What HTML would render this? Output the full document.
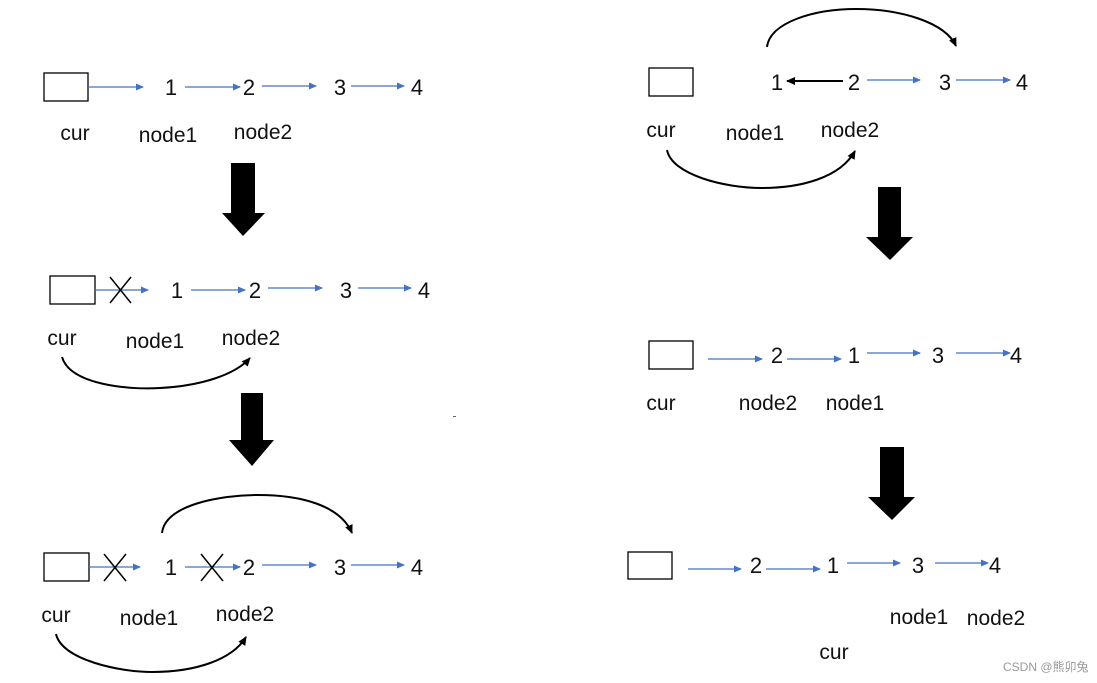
<!DOCTYPE html>
<html><head><meta charset="utf-8"><style>
html,body{margin:0;padding:0;background:#fff;}
svg{display:block;}
text{font-family:"Liberation Sans","Noto Sans CJK SC",sans-serif;fill:#111;}
.n{font-size:22px;text-anchor:middle;}
.l{font-size:21px;text-anchor:middle;}
.b{stroke:#4472C4;stroke-width:1.3;fill:none;}
.k{stroke:#000;stroke-width:2;fill:none;}
.x{stroke:#000;stroke-width:1.5;}
.r{fill:#fff;stroke:#000;stroke-width:1.3;}
</style></head><body>
<svg width="1097" height="683" viewBox="0 0 1097 683" xmlns="http://www.w3.org/2000/svg">
<defs>
<marker id="bh" markerWidth="8" markerHeight="8" refX="7" refY="4" orient="auto" markerUnits="userSpaceOnUse"><path d="M0,0.5 L8,4 L0,7.5 Z" fill="#4472C4"/></marker>
<marker id="kh" markerWidth="9" markerHeight="9" refX="8" refY="4.5" orient="auto" markerUnits="userSpaceOnUse"><path d="M0,0.5 L9,4.5 L0,8.5 Z" fill="#000"/></marker>
</defs>

<!-- Panel 1 -->
<rect class="r" x="44" y="73" width="44" height="28"/>
<line class="b" x1="88" y1="87" x2="143" y2="87" marker-end="url(#bh)"/>
<text class="n" x="171" y="95">1</text>
<line class="b" x1="185" y1="87" x2="240" y2="87" marker-end="url(#bh)"/>
<text class="n" x="249" y="95">2</text>
<line class="b" x1="262" y1="86" x2="316" y2="86" marker-end="url(#bh)"/>
<text class="n" x="340" y="95">3</text>
<line class="b" x1="351" y1="86" x2="404" y2="86" marker-end="url(#bh)"/>
<text class="n" x="417" y="95">4</text>
<text class="l" x="75" y="140">cur</text>
<text class="l" x="168" y="142">node1</text>
<text class="l" x="263" y="139">node2</text>

<path d="M231,163 H255 V213 H265 L243,236 L222,213 H231 Z" fill="#000"/>

<!-- Panel 2 -->
<rect class="r" x="50" y="276" width="45" height="28"/>
<line class="b" x1="95" y1="290" x2="148" y2="290" marker-end="url(#bh)"/>
<line class="x" x1="110" y1="277" x2="131" y2="303"/><line class="x" x1="131" y1="277" x2="110" y2="303"/>
<text class="n" x="177" y="298">1</text>
<line class="b" x1="191" y1="290" x2="245" y2="290" marker-end="url(#bh)"/>
<text class="n" x="255" y="298">2</text>
<line class="b" x1="268" y1="288" x2="322" y2="288" marker-end="url(#bh)"/>
<text class="n" x="346" y="298">3</text>
<line class="b" x1="358" y1="288" x2="411" y2="288" marker-end="url(#bh)"/>
<text class="n" x="424" y="298">4</text>
<text class="l" x="62" y="345">cur</text>
<text class="l" x="155" y="348">node1</text>
<text class="l" x="251" y="345">node2</text>
<path class="k" d="M62,357 C70,385 130,390 160,388 C200,386 235,375 250,358" marker-end="url(#kh)"/>

<path d="M241,393 H263 V440 H274 L252,466 L229,440 H241 Z" fill="#000"/>
<rect x="453" y="416" width="3" height="1" fill="#666"/>

<!-- Panel 3 -->
<rect class="r" x="44" y="553" width="45" height="28"/>
<line class="b" x1="89" y1="567" x2="140" y2="567" marker-end="url(#bh)"/>
<line class="x" x1="104" y1="554" x2="126" y2="581"/><line class="x" x1="126" y1="554" x2="104" y2="581"/>
<text class="n" x="171" y="575">1</text>
<line class="b" x1="185" y1="567" x2="240" y2="567" marker-end="url(#bh)"/>
<line class="x" x1="201" y1="554" x2="223" y2="581"/><line class="x" x1="223" y1="554" x2="201" y2="581"/>
<text class="n" x="249" y="575">2</text>
<line class="b" x1="262" y1="565" x2="316" y2="565" marker-end="url(#bh)"/>
<text class="n" x="340" y="575">3</text>
<line class="b" x1="351" y1="565" x2="404" y2="565" marker-end="url(#bh)"/>
<text class="n" x="417" y="575">4</text>
<path class="k" d="M162,533 C165,505 220,495 258,495 C300,495 340,505 352,533" marker-end="url(#kh)"/>
<text class="l" x="56" y="622">cur</text>
<text class="l" x="149" y="625">node1</text>
<text class="l" x="245" y="621">node2</text>
<path class="k" d="M56,634 C62,660 120,672 152,672 C195,672 232,660 246,637" marker-end="url(#kh)"/>

<!-- Right panel 1 -->
<rect class="r" x="649" y="68" width="44" height="28"/>
<path class="k" d="M767,47 C770,22 815,9 856,9 C900,9 945,22 956,46" marker-end="url(#kh)"/>
<text class="n" x="777" y="90">1</text>
<line class="k" x1="843" y1="81" x2="787" y2="81" marker-end="url(#kh)"/>
<text class="n" x="854" y="90">2</text>
<line class="b" x1="867" y1="80" x2="920" y2="80" marker-end="url(#bh)"/>
<text class="n" x="945" y="90">3</text>
<line class="b" x1="956" y1="80" x2="1010" y2="80" marker-end="url(#bh)"/>
<text class="n" x="1022" y="90">4</text>
<text class="l" x="661" y="137">cur</text>
<text class="l" x="755" y="140">node1</text>
<text class="l" x="850" y="137">node2</text>
<path class="k" d="M667,150 C672,175 725,188 762,188 C800,188 840,178 855,151" marker-end="url(#kh)"/>

<path d="M878,187 H901 V237 H913 L890,260 L866,237 H878 Z" fill="#000"/>

<!-- Right panel 2 -->
<rect class="r" x="649" y="341" width="44" height="28"/>
<line class="b" x1="708" y1="359" x2="762" y2="359" marker-end="url(#bh)"/>
<text class="n" x="777" y="363">2</text>
<line class="b" x1="787" y1="359" x2="841" y2="359" marker-end="url(#bh)"/>
<text class="n" x="854" y="363">1</text>
<line class="b" x1="867" y1="353" x2="920" y2="353" marker-end="url(#bh)"/>
<text class="n" x="938" y="363">3</text>
<line class="b" x1="956" y1="353" x2="1010" y2="353" marker-end="url(#bh)"/>
<text class="n" x="1016" y="363">4</text>
<text class="l" x="661" y="410">cur</text>
<text class="l" x="768" y="410">node2</text>
<text class="l" x="855" y="410">node1</text>

<path d="M880,447 H904 V497 H915 L892,520 L868,497 H880 Z" fill="#000"/>

<!-- Right panel 3 -->
<rect class="r" x="628" y="552" width="44" height="27"/>
<line class="b" x1="688" y1="569" x2="741" y2="569" marker-end="url(#bh)"/>
<text class="n" x="756" y="573">2</text>
<line class="b" x1="766" y1="569" x2="820" y2="569" marker-end="url(#bh)"/>
<text class="n" x="833" y="573">1</text>
<line class="b" x1="847" y1="563" x2="900" y2="563" marker-end="url(#bh)"/>
<text class="n" x="918" y="573">3</text>
<line class="b" x1="935" y1="563" x2="988" y2="563" marker-end="url(#bh)"/>
<text class="n" x="995" y="573">4</text>
<text class="l" x="919" y="624">node1</text>
<text class="l" x="996" y="625">node2</text>
<text class="l" x="834" y="659">cur</text>

<text x="1003" y="671" style="font-size:12px;fill:#999;">CSDN @熊卯兔</text>
</svg>
</body></html>
